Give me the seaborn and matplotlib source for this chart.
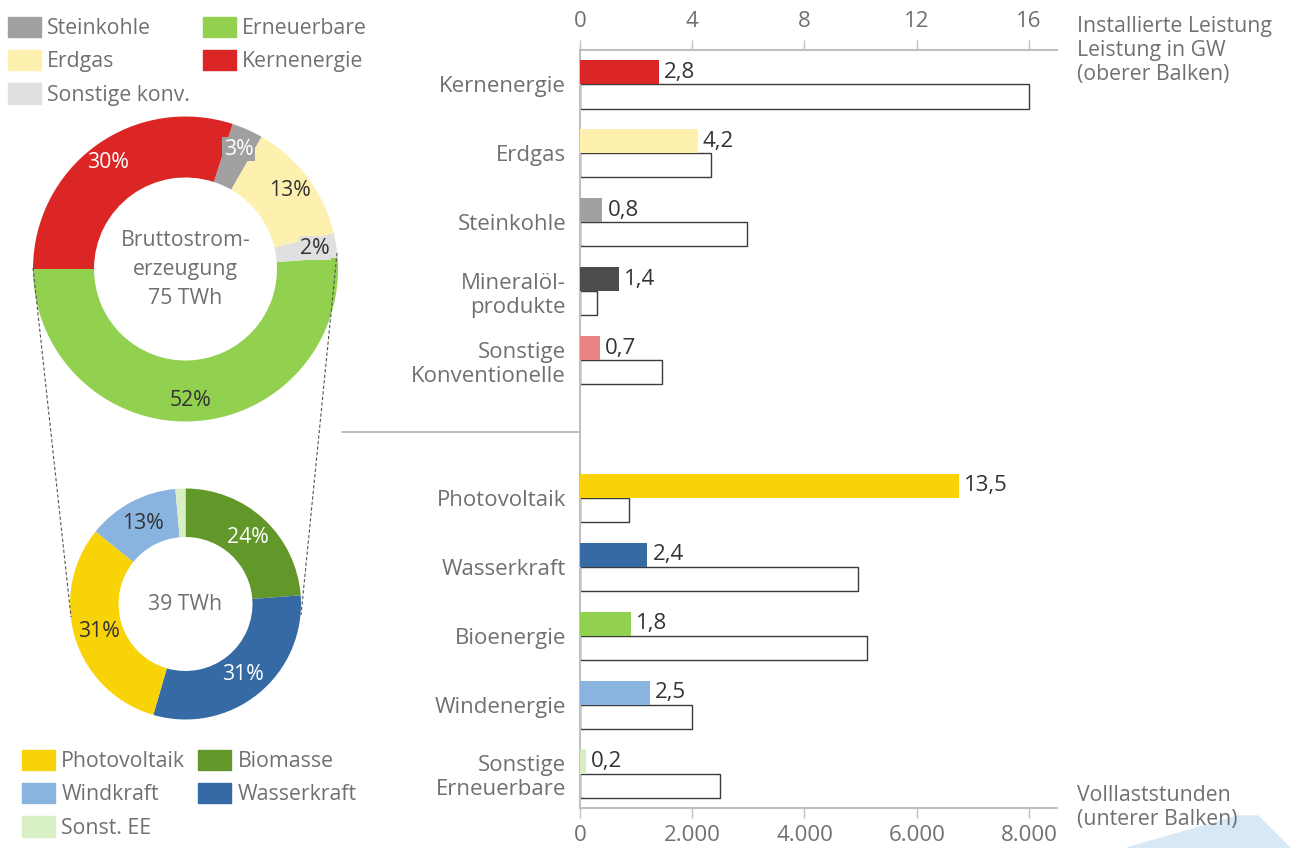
import numpy as np
import pandas as pd
import seaborn as sns
import matplotlib.pyplot as plt
from matplotlib.patches import Patch, Polygon
from matplotlib.lines import Line2D

# --- data -------------------------------------------------------------
conv_names = ["Kernenergie", "Erdgas", "Steinkohle", "Mineralöl-\nprodukte", "Sonstige\nKonventionelle"]
conv_gw = [2.8, 4.2, 0.8, 1.4, 0.7]
conv_hours = [8000, 2330, 2970, 300, 1470]
conv_colors = ["#dc2626", "#fef1b0", "#a0a0a0", "#4d4d4d", "#eb8585"]

ee_names = ["Photovoltaik", "Wasserkraft", "Bioenergie", "Windenergie", "Sonstige\nErneuerbare"]
ee_gw = [13.5, 2.4, 1.8, 2.5, 0.2]
ee_hours = [880, 4960, 5110, 2000, 2490]
ee_colors = ["#f7d308", "#356aa4", "#92d050", "#8ab4e0", "#d8efc4"]

mix_names = ["Erneuerbare", "Sonstige konv.", "Erdgas", "Steinkohle", "Kernenergie"]
mix_share = [51.2, 2.6, 12.9, 3.3, 30.0]
mix_labels = ["52%", "2%", "13%", "3%", "30%"]
mix_colors = ["#92d050", "#e0e0e0", "#fef1b0", "#a0a0a0", "#dc2626"]

ren_names = ["Biomasse", "Wasserkraft", "Photovoltaik", "Windkraft", "Sonst. EE"]
ren_share = [23.8, 30.7, 31.3, 12.8, 1.4]
ren_labels = ["24%", "31%", "31%", "13%", ""]
ren_colors = ["#62972a", "#356aa4", "#f7d308", "#8ab4e0", "#d8efc4"]

# --- style ------------------------------------------------------------
sns.set_theme(style="white")
plt.rcParams["font.family"] = ["Open Sans", "DejaVu Sans"]
GRAY = "#707070"
DARK = "#333333"
AXC = "#c0c0c0"
FS = 16       # bar chart texts
FSL = 15.3    # legends / donuts

W, H = 1290, 848
fig = plt.figure(figsize=(W / 100, H / 100), dpi=100)
fig.patch.set_facecolor("white")


def box(x0, y0, x1, y1):
    return [x0 / W, 1 - y1 / H, (x1 - x0) / W, (y1 - y0) / H]


# decorative shape bottom right
fig.patches.append(Polygon([(1127 / W, 0), (1238 / W, 1 - 816 / H), (1258 / W, 1 - 816 / H), (1.0, 0)],
                           closed=True, transform=fig.transFigure, color="#d9e8f5", zorder=0))

# --- bar chart --------------------------------------------------------
names = conv_names + ee_names
pos = list(range(len(conv_names))) + [len(conv_names) + 1 + i for i in range(len(ee_names))]
df = pd.DataFrame({
    "name": names,
    "gw": conv_gw + ee_gw,
    "hours": conv_hours + ee_hours,
    "pos": pos,
})
df["pos_up"] = df["pos"] - 0.175
df["pos_low"] = df["pos"] + 0.175

ax = fig.add_axes(box(580, 50, 1057, 808))
ax.patch.set_alpha(0)
sns.barplot(data=df, x="hours", y="pos_low", orient="h", native_scale=True, width=0.35,
            color="white", saturation=1, edgecolor="#3a3a3a", linewidth=1.0,
            errorbar=None, ax=ax)

ax2 = ax.twiny()
sns.barplot(data=df, x="gw", y="pos_up", hue="name", palette=dict(zip(names, conv_colors + ee_colors)),
            dodge=False, legend=False, orient="h", native_scale=True, width=0.35,
            saturation=1, linewidth=0, errorbar=None, ax=ax2)

for _, r in df.iterrows():
    ax2.text(r["gw"] + 0.18, r["pos_up"], f"{r['gw']:.1f}".replace(".", ","),
             va="center", ha="left", fontsize=FS, color=DARK)

ax.set_xlim(0, 8500)
ax2.set_xlim(0, 17)
ax.set_ylim(10.5, -0.5)
ax.set_xticks(range(0, 8001, 2000))
ax.set_xticklabels([f"{v:,}".replace(",", ".") for v in range(0, 8001, 2000)])
ax2.set_xticks([0, 4, 8, 12, 16])
ax.set_yticks(df["pos"])
ax.set_yticklabels(df["name"])
ax.set_xlabel("")
ax.set_ylabel("")
ax2.set_xlabel("")
ax.tick_params(axis="y", length=0, pad=10, labelsize=FS, labelcolor=GRAY)
ax.tick_params(axis="x", direction="out", length=7, width=1, color=AXC, pad=5,
               labelsize=FS, labelcolor=GRAY, bottom=True)
ax2.tick_params(axis="x", direction="out", length=7, width=1, color=AXC, pad=6,
                labelsize=FS, labelcolor=GRAY, top=True)
for s in ["top", "right"]:
    ax.spines[s].set_visible(False)
for s in ["left", "bottom"]:
    ax.spines[s].set_color(AXC)
    ax.spines[s].set_linewidth(1.5)
for s in ["left", "bottom", "right"]:
    ax2.spines[s].set_visible(False)
ax2.spines["top"].set_color(AXC)
ax2.spines["top"].set_linewidth(1.5)

fig.text(1077 / W, 1 - 16 / H, "Installierte Leistung\nLeistung in GW\n(oberer Balken)",
         ha="left", va="top", fontsize=FSL, color=GRAY, linespacing=1.2)
fig.text(1077 / W, 1 - 785 / H, "Volllaststunden\n(unterer Balken)",
         ha="left", va="top", fontsize=FSL, color=GRAY, linespacing=1.2)

fig.add_artist(Line2D([342 / W, 580 / W], [1 - 432 / H] * 2, color="#b8b8b8", lw=1.3))

# --- donuts -----------------------------------------------------------
def donut(cx, cy, R, shares, colors, start, ccw, width):
    a = fig.add_axes(box(cx - 1.1 * R, cy - 1.1 * R, cx + 1.1 * R, cy + 1.1 * R))
    wedges, _ = a.pie(shares, colors=colors, startangle=start, counterclock=ccw,
                      radius=1, wedgeprops=dict(width=width, linewidth=0))
    a.set_xlim(-1.1, 1.1)
    a.set_ylim(-1.1, 1.1)
    a.set_aspect("equal")
    a.axis("off")
    return a, wedges


def mid(w, r):
    t = np.deg2rad((w.theta1 + w.theta2) / 2)
    return r * np.cos(t), r * np.sin(t)


# connector lines
for (x0, y0), (x1, y1) in [((33, 268), (71, 617)), ((337, 253), (301, 615))]:
    fig.add_artist(Line2D([x0 / W, x1 / W], [1 - y0 / H, 1 - y1 / H], color="#555555",
                          lw=0.8, linestyle=(0, (3, 2))))

p1, w1 = donut(185.5, 269, 152.5, mix_share, mix_colors, 180, True, 0.4)
label_style1 = {
    "52%": dict(color=DARK),
    "2%": dict(color=DARK, bbox=dict(fc="#e0e0e0", ec="none", pad=1)),
    "13%": dict(color=DARK),
    "3%": dict(color="white", bbox=dict(fc="#a0a0a0", ec="none", pad=1)),
    "30%": dict(color="white"),
}
for w, lab in zip(w1, mix_labels):
    x, y = mid(w, 0.86)
    p1.text(x, y, lab, ha="center", va="center", fontsize=FSL, **label_style1[lab])
p1.text(0, 0, "Bruttostrom-\nerzeugung\n75 TWh", ha="center", va="center",
        fontsize=FSL, color=GRAY, linespacing=1.5)

p2, w2 = donut(185.5, 604, 115.5, ren_share, ren_colors, 90, False, 0.42)
ren_text_col = ["white", "white", DARK, DARK, DARK]
for w, lab, c in zip(w2, ren_labels, ren_text_col):
    if lab:
        x, y = mid(w, 0.79)
        p2.text(x, y, lab, ha="center", va="center", fontsize=FSL, color=c)
p2.text(0, 0, "39 TWh", ha="center", va="center", fontsize=FSL, color=GRAY)

# --- legends ----------------------------------------------------------
leg_kw = dict(ncol=2, loc="upper left", frameon=False, fontsize=FSL, handlelength=1.55,
              handleheight=1.1, handletextpad=0.3, labelspacing=0.5, columnspacing=0.6,
              borderpad=0, borderaxespad=0, labelcolor=GRAY)

top_order = ["Steinkohle", "Erdgas", "Sonstige konv.", "Erneuerbare", "Kernenergie"]
mix_col = dict(zip(mix_names, mix_colors))
fig.legend([Patch(color=mix_col[n]) for n in top_order], top_order,
           bbox_to_anchor=(8 / W, 1 - 17 / H), **leg_kw)

bot_order = ["Photovoltaik", "Windkraft", "Sonst. EE", "Biomasse", "Wasserkraft"]
ren_col = dict(zip(ren_names, ren_colors))
fig.legend([Patch(color=ren_col[n]) for n in bot_order], bot_order,
           bbox_to_anchor=(22 / W, 1 - 750 / H), **leg_kw)

fig.savefig("out.png", dpi=100, facecolor="white")
